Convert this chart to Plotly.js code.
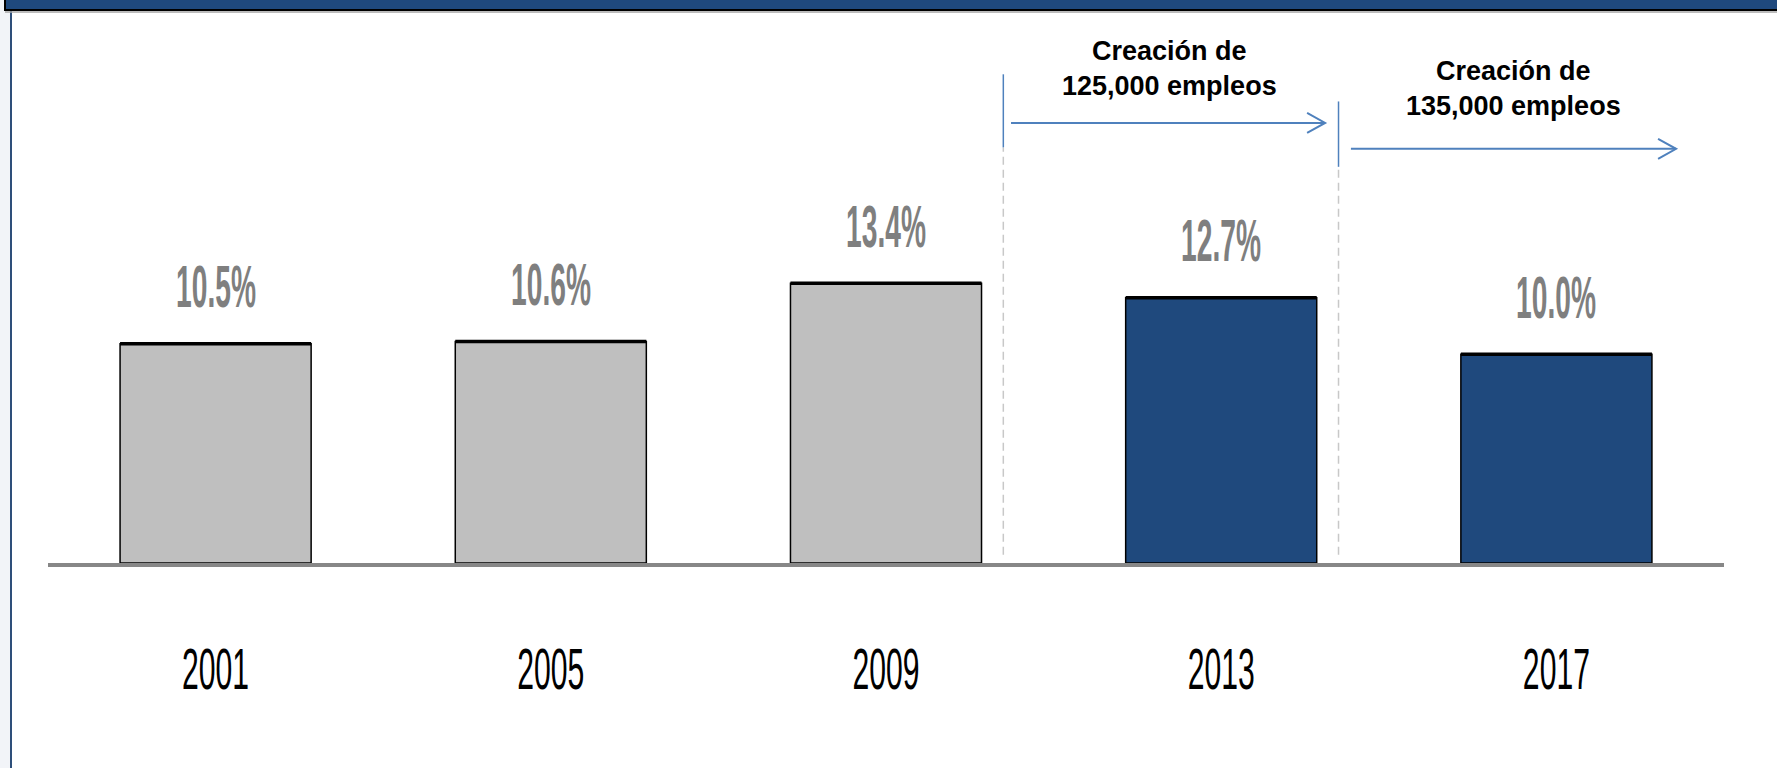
<!DOCTYPE html>
<html>
<head>
<meta charset="utf-8">
<script src="https://cdn.plot.ly/plotly-3.0.1.min.js"></script>
<style>
  html, body { margin: 0; padding: 0; background: #ffffff; }
  #chart { width: 1777px; height: 768px; }
  .xtick { transform-box: fill-box; transform-origin: center; transform: scaleX(0.52); }
  .annotation-text.val { transform-box: fill-box; transform-origin: center; transform: scaleX(0.47); }
</style>
</head>
<body>
<div id="chart"></div>
<script>
// ---- data ----
const years = ['2001', '2005', '2009', '2013', '2017'];
const rates = [10.5, 10.6, 13.4, 12.7, 10.0];
const rateLabels = ['10.5%', '10.6%', '13.4%', '12.7%', '10.0%'];
const barColors = ['#BFBFBF', '#BFBFBF', '#BFBFBF', '#1F497D', '#1F497D'];
const periodTexts = ['Creación de<br>125,000 empleos', 'Creación de<br>135,000 empleos'];

// ---- style / layout constants ----
const W = 1777, H = 768;
const mL = 48, mR = 53, mT = 20, mB = 205;
const plotW = W - mL - mR, plotH = H - mT - mB;
const px2paperX = p => (p - mL) / plotW;
const px2paperY = p => (H - mB - p) / plotH;
const arrowColor = '#4F81BD';
const barWidth = 0.57;

const bars = {
  type: 'bar',
  x: years,
  y: rates,
  width: barWidth,
  marker: { color: barColors, line: { color: '#000000', width: 1.5 } },
  hoverinfo: 'skip'
};

// thicker black edge on top of each bar (line-ew symbol length = 1.4 * size)
const barTops = {
  type: 'scatter',
  mode: 'markers',
  x: years,
  y: rates,
  marker: { symbol: 'line-ew', size: (barWidth * plotW / years.length) / 1.4,
            line: { color: '#000000', width: 3.5 } },
  hoverinfo: 'skip'
};

// value labels
const annotations = years.map((yr, i) => ({
  x: i, y: rates[i], xref: 'x', yref: 'y',
  text: rateLabels[i], showarrow: false,
  yanchor: 'middle', xanchor: 'center', yshift: 57,
  font: { family: 'Liberation Sans, Arial, sans-serif', size: 60, color: '#7F7F7F', weight: 'bold' }
}));

// period annotations (text above arrows)
annotations.push({
  x: 2.847, y: 23.7, xref: 'x', yref: 'y', text: periodTexts[0], showarrow: false,
  xanchor: 'center', yanchor: 'middle',
  font: { family: 'Liberation Sans, Arial, sans-serif', size: 27, color: '#000000', weight: 'bold' }
});
annotations.push({
  x: 3.873, y: 22.7, xref: 'x', yref: 'y', text: periodTexts[1], showarrow: false,
  xanchor: 'center', yanchor: 'middle',
  font: { family: 'Liberation Sans, Arial, sans-serif', size: 27, color: '#000000', weight: 'bold' }
});

const shapes = [
  // left light strip
  { type: 'rect', xref: 'paper', yref: 'paper', x0: px2paperX(0), x1: px2paperX(10), y0: px2paperY(H), y1: px2paperY(0),
    fillcolor: '#F2F4F8', line: { width: 0 }, layer: 'below' },
  // left vertical border
  { type: 'line', xref: 'paper', yref: 'paper', x0: px2paperX(11), x1: px2paperX(11), y0: px2paperY(H), y1: px2paperY(8),
    line: { color: '#2E4F7A', width: 2 } },
  // top band
  { type: 'rect', xref: 'paper', yref: 'paper', x0: px2paperX(5), x1: px2paperX(W + 5), y0: px2paperY(10), y1: px2paperY(-5),
    fillcolor: '#1F497D', line: { color: '#000000', width: 2 } },
  { type: 'line', xref: 'paper', yref: 'paper', x0: px2paperX(5), x1: px2paperX(W), y0: px2paperY(12), y1: px2paperY(12),
    line: { color: '#A6A6A6', width: 1.5 } },
  // dashed separators
  { type: 'line', xref: 'x', yref: 'y', x0: 2.35, x1: 2.35, y0: 0.4, y1: 19.9,
    line: { color: '#C8C8C8', width: 1.5, dash: '8px,5px' } },
  { type: 'line', xref: 'x', yref: 'y', x0: 3.35, x1: 3.35, y0: 0.4, y1: 18.97,
    line: { color: '#C8C8C8', width: 1.5, dash: '8px,5px' } },
  // solid blue markers
  { type: 'line', xref: 'x', yref: 'y', x0: 2.35, x1: 2.35, y0: 19.9, y1: 23.4,
    line: { color: arrowColor, width: 1.5 } },
  { type: 'line', xref: 'x', yref: 'y', x0: 3.35, x1: 3.35, y0: 18.97, y1: 22.1,
    line: { color: arrowColor, width: 1.5 } },
  // arrows
  { type: 'line', xref: 'x', yref: 'y', x0: 2.373, x1: 3.31, y0: 21.07, y1: 21.07,
    line: { color: arrowColor, width: 2 } },
  { type: 'path', xref: 'x', yref: 'y', xsizemode: 'pixel', ysizemode: 'pixel', xanchor: 3.31, yanchor: 21.07,
    path: 'M-18,10 L0,0 L-18,-10', line: { color: arrowColor, width: 2 } },
  { type: 'line', xref: 'x', yref: 'y', x0: 3.387, x1: 4.357, y0: 19.83, y1: 19.83,
    line: { color: arrowColor, width: 2 } },
  { type: 'path', xref: 'x', yref: 'y', xsizemode: 'pixel', ysizemode: 'pixel', xanchor: 4.357, yanchor: 19.83,
    path: 'M-18,10 L0,0 L-18,-10', line: { color: arrowColor, width: 2 } }
];

const layout = {
  width: W, height: H,
  margin: { l: mL, r: mR, t: mT, b: mB },
  paper_bgcolor: '#ffffff', plot_bgcolor: '#ffffff',
  showlegend: false,
  xaxis: {
    type: 'category', range: [-0.5, 4.5],
    showgrid: false, zeroline: false,
    showline: true, linecolor: '#878787', linewidth: 4,
    ticks: 'outside', ticklen: 52, tickcolor: 'rgba(0,0,0,0)',
    tickfont: { family: 'Liberation Sans, Arial, sans-serif', size: 58, color: '#000000' }
  },
  yaxis: {
    range: [0, 26], visible: false, showgrid: false, zeroline: false
  },
  shapes: shapes,
  annotations: annotations
};

Plotly.newPlot('chart', [bars, barTops], layout, { displayModeBar: false, staticPlot: true }).then(gd => {
  // condensed style for the value labels (first annotations)
  const texts = gd.querySelectorAll('.annotation-text');
  texts.forEach((t, i) => { if (i < years.length) t.classList.add('val'); });
});
</script>
</body>
</html>
